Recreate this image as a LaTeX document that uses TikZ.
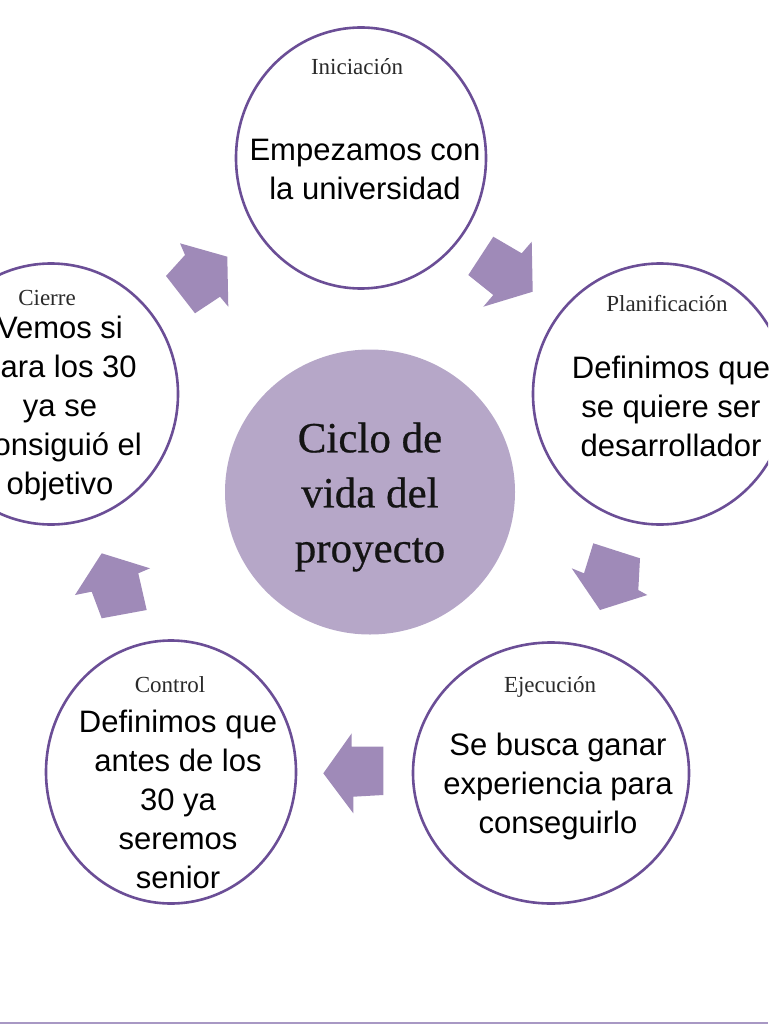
\documentclass[tikz,border=0pt]{standalone}
\usepackage{fontspec}
\setmainfont{Liberation Serif}
\newfontfamily\bodyfont{Liberation Sans}
\newfontfamily\hubfont[FakeBold=0.6]{Liberation Serif}
\usetikzlibrary{shapes.geometric}
\definecolor{ringcol}{HTML}{6B4E96}
\definecolor{arrowcol}{HTML}{9F8AB8}
\definecolor{hubcol}{HTML}{B6A7C8}
\definecolor{linecol}{HTML}{A898C4}
\definecolor{labelcol}{HTML}{2A2A2A}
\begin{document}
\begin{tikzpicture}[x=1pt,y=-1pt,
  phase/.style={ellipse, draw=ringcol, line width=2.6pt, fill=white, inner sep=0pt},
  hub/.style={ellipse, fill=hubcol, inner sep=0pt, minimum width=290pt, minimum height=285pt},
  blockarrow/.style={fill=arrowcol},
  phaselabel/.style={font=\fontsize{23}{27}\selectfont, text=labelcol, inner sep=0pt, anchor=base},
  phasetext/.style={font=\bodyfont\fontsize{31}{39}\selectfont, align=center, inner sep=0pt, text=black},
  hubtext/.style={font=\hubfont\fontsize{43}{55}\selectfont, align=center, inner sep=0pt, text=black!92},
]
\useasboundingbox (0,0) rectangle (768,1024);
\clip (0,0) rectangle (768,1024);

% block arrows
\fill[blockarrow] (227.3,256.7) -- (228.3,306.7) -- (220,296.7) -- (195,313.3) -- (166,276) -- (185,255) -- (180,243.3) -- cycle;
\fill[blockarrow] (532.7,291.7) -- (483.3,306.7) -- (493.3,295) -- (468.3,275) -- (493.3,236.7) -- (521.7,253.3) -- (531.7,241.7) -- cycle;
\fill[blockarrow] (600,610) -- (571.7,568.3) -- (584,573.3) -- (593.3,543.3) -- (640,558.3) -- (638.3,590) -- (647.3,595) -- cycle;
\fill[blockarrow] (323.3,773.3) -- (351.7,733.3) -- (351.7,746.7) -- (383.3,746.7) -- (383.3,795) -- (353.3,796.7) -- (353.3,813.3) -- cycle;
\fill[blockarrow] (101.7,553.3) -- (150,568.3) -- (138.3,573.3) -- (146.7,610) -- (101.7,618.3) -- (91.7,591.7) -- (75,595) -- cycle;

% circles
\node[hub] (hub) at (370,492) {};
\node[phase, minimum width=250pt, minimum height=261pt] (ini) at (361,158) {};
\node[phase, minimum width=254pt, minimum height=261pt] (pla) at (660,394) {};
\node[phase, minimum width=276pt, minimum height=261pt] (eje) at (551,773) {};
\node[phase, minimum width=250pt, minimum height=263pt] (con) at (171,772) {};
\node[phase, minimum width=254pt, minimum height=261pt] (cie) at (51,394) {};

% hub text
\node[hubtext] (hubtxt) at (370,497) {Ciclo de\\vida del\\proyecto};

% labels
\node[phaselabel] (inilab) at (357,75) {Iniciación};
\node[phaselabel] (plalab) at (667,311) {Planificación};
\node[phaselabel] (ejelab) at (550,692) {Ejecución};
\node[phaselabel] (conlab) at (170,692) {Control};
\node[phaselabel] (cielab) at (47,305) {Cierre};

% texts
\node[phasetext] (initxt) at (365,169) {Empezamos con\\la universidad};
\node[phasetext] (platxt) at (671,406) {Definimos que\\se quiere ser\\desarrollador};
\node[phasetext] (ejetxt) at (558,786) {Se busca ganar\\experiencia para\\conseguirlo};
\node[phasetext] (contxt) at (178,799) {Definimos que\\antes de los\\30 ya\\seremos\\senior};
\node[phasetext] (cietxt) at (60,408) {Vemos si\\para los 30\\ya se\\consiguió el\\objetivo};

% bottom rule
\draw[linecol, line width=2pt] (0,1022.5) -- (768,1022.5);
\end{tikzpicture}
\end{document}
